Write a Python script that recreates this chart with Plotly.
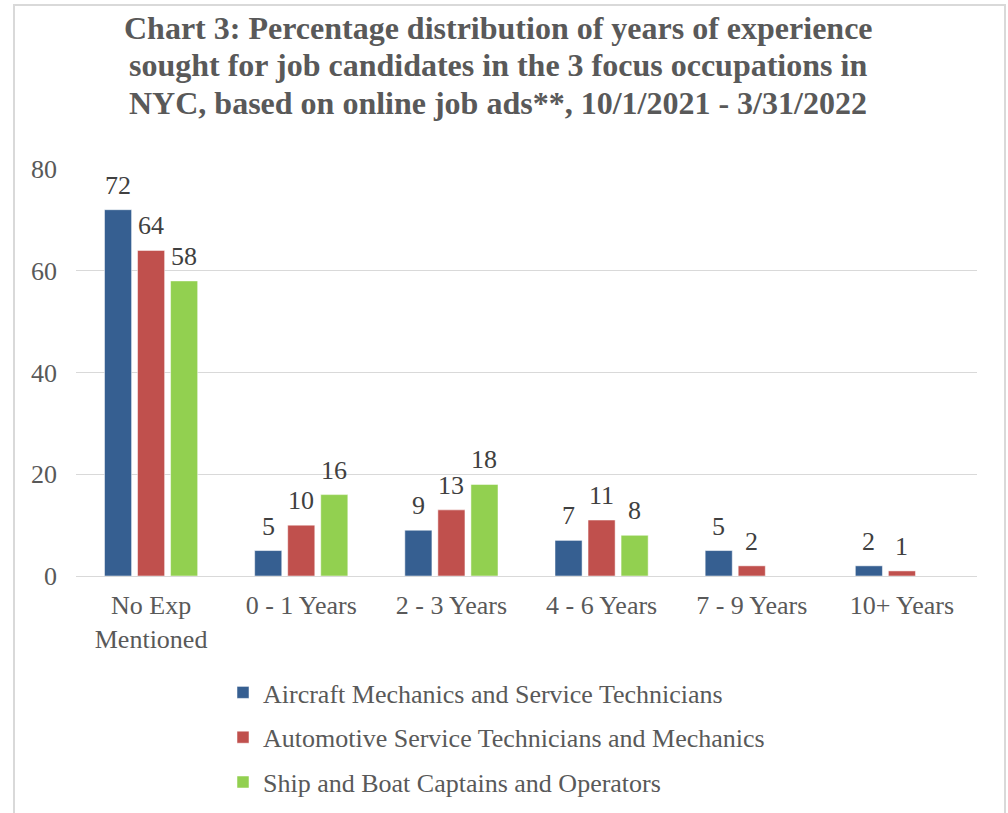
import plotly.graph_objects as go

categories = ["No Exp<br>Mentioned", "0 - 1 Years", "2 - 3 Years", "4 - 6 Years", "7 - 9 Years", "10+ Years"]
series_names = [
    "Aircraft Mechanics and Service Technicians",
    "Automotive Service Technicians and Mechanics",
    "Ship and Boat Captains and Operators",
]
aircraft = [72, 5, 9, 7, 5, 2]
automotive = [64, 10, 13, 11, 2, 1]
ship = [58, 16, 18, 8, None, None]
title_lines = [
    "Chart 3: Percentage distribution of years of experience",
    "sought for job candidates in the 3 focus occupations in",
    "NYC, based on online job ads**, 10/1/2021 - 3/31/2022",
]
colors = ["#365F91", "#C0504D", "#92D050"]

W, H = 1008, 813
L, R, T, B = 76, 31, 169, 237
pw, ph = W - L - R, H - T - B
FONT = "Liberation Serif"
SZ = 26

def px_x(x):
    return (x - L) / pw

def px_y(y):
    return (H - B - y) / ph

fig = go.Figure()
series = [aircraft, automotive, ship]
label_shift = [-33, 0, 33]
annotations = []
for name, vals, col, dx in zip(series_names, series, colors, label_shift):
    fig.add_trace(go.Bar(
        x=categories, y=vals, name=name, legendgroup=name,
        marker=dict(color=col, line=dict(color="white", width=0.5)),
        hoverinfo="x+y+name",
    ))
    for c, v in zip(categories, vals):
        if v is None:
            continue
        annotations.append(dict(
            x=c, y=v, xref="x", yref="y", text=str(v), showarrow=False,
            xanchor="center", yanchor="bottom", xshift=dx, yshift=8,
            font=dict(family=FONT, size=SZ, color="#404040"),
        ))

title_baselines = [41, 78.5, 116]
for line, base in zip(title_lines, title_baselines):
    annotations.append(dict(
        text="<b>%s</b>" % line,
        xref="paper", yref="paper", x=px_x(498), y=px_y(base + 7),
        xanchor="center", yanchor="bottom", showarrow=False,
        font=dict(family=FONT, size=32, color="#595959"),
    ))

fig.update_layout(
    width=W, height=H,
    margin=dict(l=L, r=R, t=T, b=B, autoexpand=False),
    paper_bgcolor="white", plot_bgcolor="white",
    font=dict(family=FONT, color="#595959"),
    barmode="group", bargap=0.34, bargroupgap=0.18,
    showlegend=True,
    legend=dict(
        orientation="v", x=px_x(223), y=px_y(669), xanchor="left", yanchor="top",
        font=dict(family=FONT, size=SZ, color="#595959"),
        tracegroupgap=8, itemwidth=30,
    ),
    xaxis=dict(
        showgrid=False, showline=True, linecolor="#D9D9D9", linewidth=1,
        ticks="", tickfont=dict(family=FONT, size=SZ, color="#595959"),
        ticklabelstandoff=6,
    ),
    yaxis=dict(
        range=[0, 80], dtick=20, showgrid=True, gridcolor="#D9D9D9", gridwidth=1,
        zeroline=True, zerolinecolor="#D9D9D9", zerolinewidth=1,
        showline=False, ticks="",
        tickfont=dict(family=FONT, size=SZ, color="#595959"),
        ticklabelstandoff=18,
    ),
    annotations=annotations,
    shapes=[dict(
        type="rect", xref="paper", yref="paper",
        x0=px_x(14), x1=px_x(1005), y0=px_y(830), y1=px_y(5),
        line=dict(color="#D9D9D9", width=2), fillcolor="rgba(0,0,0,0)", layer="below",
    )],
)

fig.write_html("out.html", config={"displayModeBar": False},
               post_script="document.body.style.margin='0';")
